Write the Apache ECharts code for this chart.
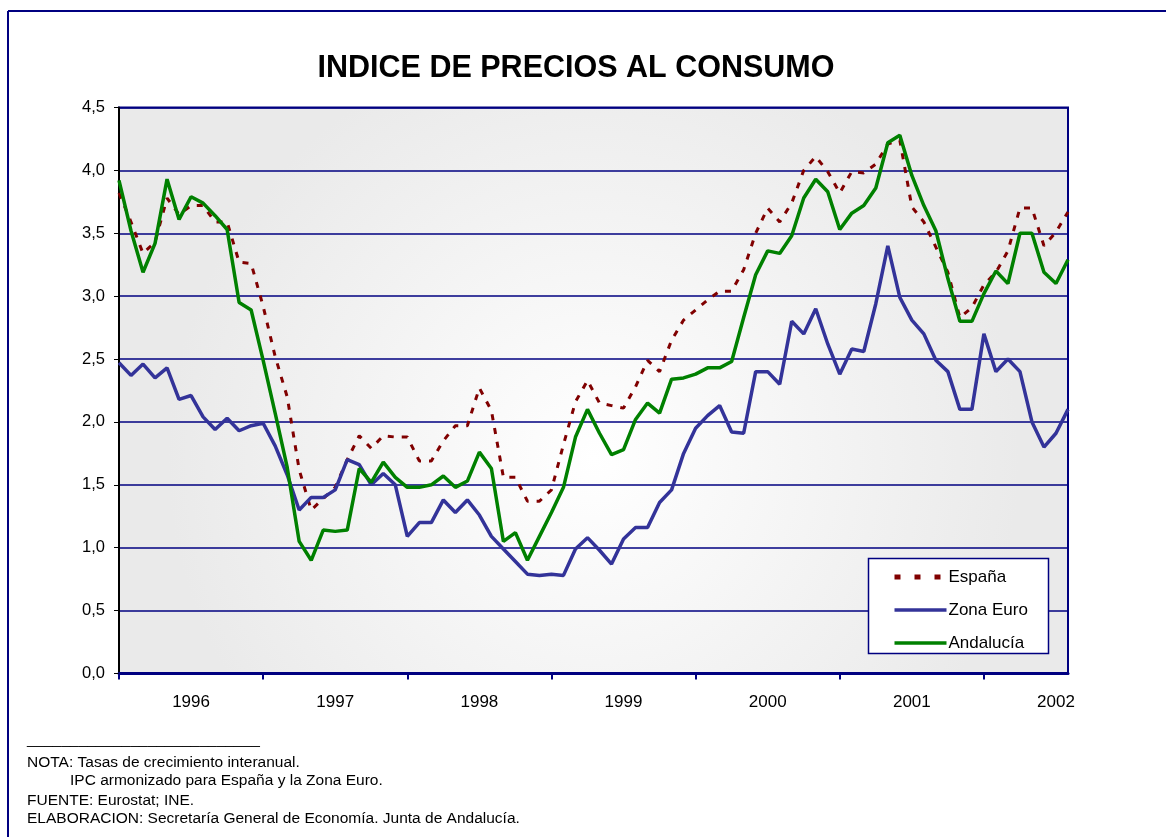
<!DOCTYPE html>
<html>
<head>
<meta charset="utf-8">
<script src="https://cdn.jsdelivr.net/npm/echarts@6/dist/echarts.min.js"></script>
<style>
html,body{margin:0;padding:0;background:#fff;}
#c{width:1166px;height:837px;}
</style>
</head>
<body>
<div id="c"></div>
<script>
// ---- data ----
const years = ['1996','1997','1998','1999','2000','2001','2002'];
const months = ['01','02','03','04','05','06','07','08','09','10','11','12'];
const lastMonthIndex2002 = 7; // data ends Aug 2002
const yTicks = [0, 0.5, 1, 1.5, 2, 2.5, 3, 3.5, 4, 4.5];

const espana = [
  3.82, 3.59, 3.34, 3.43, 3.78, 3.65, 3.72, 3.72, 3.59, 3.59, 3.27, 3.26,
  2.92, 2.52, 2.20, 1.62, 1.30, 1.39, 1.48, 1.70, 1.89, 1.79, 1.89, 1.88,
  1.88, 1.69, 1.69, 1.85, 1.97, 1.97, 2.27, 2.09, 1.56, 1.56, 1.37, 1.37,
  1.46, 1.82, 2.16, 2.33, 2.15, 2.13, 2.11, 2.28, 2.49, 2.40, 2.65, 2.81,
  2.89, 2.97, 3.04, 3.04, 3.21, 3.50, 3.70, 3.59, 3.74, 4.00, 4.11, 3.99,
  3.82, 3.99, 3.98, 4.05, 4.21, 4.24, 3.71, 3.59, 3.39, 3.19, 2.83, 2.91,
  3.09, 3.19, 3.36, 3.70, 3.70, 3.40, 3.51, 3.67
];
const zonaEuro = [
  2.47, 2.37, 2.46, 2.35, 2.43, 2.18, 2.21, 2.04, 1.94, 2.03, 1.93, 1.97,
  1.99, 1.81, 1.58, 1.30, 1.40, 1.40, 1.46, 1.70, 1.66, 1.50, 1.59, 1.50,
  1.09, 1.20, 1.20, 1.38, 1.28, 1.38, 1.26, 1.09, 0.99, 0.89, 0.79, 0.78,
  0.79, 0.78, 0.99, 1.08, 0.98, 0.87, 1.07, 1.16, 1.16, 1.36, 1.46, 1.75,
  1.95, 2.05, 2.13, 1.92, 1.91, 2.40, 2.40, 2.30, 2.80, 2.70, 2.90, 2.62,
  2.38, 2.58, 2.56, 2.94, 3.40, 2.99, 2.81, 2.70, 2.49, 2.40, 2.10, 2.10,
  2.70, 2.40, 2.50, 2.40, 2.00, 1.80, 1.91, 2.10
];
const andalucia = [
  3.92, 3.52, 3.19, 3.42, 3.93, 3.61, 3.79, 3.74, 3.64, 3.53, 2.95, 2.89,
  2.49, 2.07, 1.64, 1.05, 0.90, 1.14, 1.13, 1.14, 1.63, 1.52, 1.68, 1.56,
  1.48, 1.48, 1.50, 1.57, 1.48, 1.53, 1.76, 1.63, 1.05, 1.12, 0.90, 1.09,
  1.28, 1.48, 1.88, 2.10, 1.91, 1.74, 1.78, 2.02, 2.15, 2.07, 2.34, 2.35,
  2.38, 2.43, 2.43, 2.48, 2.83, 3.17, 3.36, 3.34, 3.48, 3.78, 3.93, 3.83,
  3.53, 3.66, 3.72, 3.86, 4.22, 4.28, 3.96, 3.72, 3.52, 3.14, 2.80, 2.80,
  3.02, 3.20, 3.10, 3.50, 3.50, 3.19, 3.10, 3.29
];

const categories = [];
years.forEach(function (y, yi) {
  months.forEach(function (m, mi) {
    if (yi < years.length - 1 || mi <= lastMonthIndex2002) categories.push(y + '-' + m);
  });
});

const FONT = '"Liberation Sans", Arial, sans-serif';
const NAVY = '#000080';

const chart = echarts.init(document.getElementById('c'));
chart.setOption({
  animation: false,
  backgroundColor: '#ffffff',
  grid: {
    left: 119, right: 98, top: 107.5, bottom: 163.5,
    show: true,
    borderColor: NAVY,
    borderWidth: 2,
    backgroundColor: {
      type: 'radial', x: 0.5, y: 0.62, r: 0.75,
      colorStops: [
        { offset: 0, color: '#ffffff' },
        { offset: 1, color: '#eaeaea' }
      ]
    }
  },
  legend: {
    orient: 'vertical',
    left: 892,
    top: 568,
    itemWidth: 52,
    itemHeight: 14,
    itemGap: 15,
    padding: 0,
    z: 20,
    itemStyle: { opacity: 0 },
    lineStyle: { width: 3.5 },
    textStyle: { fontFamily: FONT, fontSize: 17, lineHeight: 18, color: '#000', padding: [0, 0, 0, -3] },
    data: [
      { name: 'España', lineStyle: { width: 5, type: [6, 14], color: '#800000' } },
      { name: 'Zona Euro' },
      { name: 'Andalucía' }
    ]
  },
  xAxis: {
    type: 'category',
    data: categories,
    boundaryGap: false,
    axisLine: { lineStyle: { color: NAVY, width: 3 } },
    axisTick: {
      show: true,
      length: 6,
      interval: function (i) { return i % 12 === 0; },
      lineStyle: { color: NAVY, width: 2 }
    },
    axisLabel: {
      interval: function (i) { return i % 12 === 6; },
      formatter: function (v) { return v.slice(0, 4); },
      margin: 20,
      fontFamily: FONT,
      fontSize: 17,
      color: '#000'
    },
    splitLine: { show: false }
  },
  yAxis: {
    type: 'value',
    min: 0,
    max: 4.5,
    interval: 0.5,
    axisLine: { show: true, lineStyle: { color: '#000', width: 2 } },
    axisTick: { show: true, length: 5, lineStyle: { color: '#000', width: 1 } },
    axisLabel: {
      margin: 14,
      fontFamily: FONT,
      fontSize: 16.5,
      color: '#000',
      formatter: function (v) { return v.toFixed(1).replace('.', ','); }
    },
    splitLine: { show: true, lineStyle: { color: NAVY, width: 1.5 } }
  },
  series: [
    {
      name: 'España', type: 'line', data: espana, symbol: 'none', z: 3,
      lineStyle: { color: '#800000', width: 3, type: [6, 8] },
      itemStyle: { color: '#800000' }
    },
    {
      name: 'Zona Euro', type: 'line', data: zonaEuro, symbol: 'none', z: 4,
      lineStyle: { color: '#333399', width: 3.5 },
      itemStyle: { color: '#333399' }
    },
    {
      name: 'Andalucía', type: 'line', data: andalucia, symbol: 'none', z: 5,
      lineStyle: { color: '#008000', width: 3.5 },
      itemStyle: { color: '#008000' }
    }
  ],
  graphic: [
    { type: 'line', shape: { x1: 8, y1: 11, x2: 1166, y2: 11 }, style: { stroke: NAVY, lineWidth: 2 }, z: 1 },
    { type: 'line', shape: { x1: 8, y1: 11, x2: 8, y2: 837 }, style: { stroke: NAVY, lineWidth: 2 }, z: 1 },
    { type: 'text', x: 576, y: 69, z: 10,
      style: { text: 'INDICE DE PRECIOS AL CONSUMO', font: 'bold 30.5px ' + FONT, fill: '#000',
               textAlign: 'center', textVerticalAlign: 'middle' } },
    { type: 'rect', shape: { x: 868.5, y: 558.5, width: 180, height: 95 },
      style: { fill: '#ffffff', stroke: NAVY, lineWidth: 1.5 }, z: 10 },
    { type: 'text', left: 27, top: 732, z: 10,
      style: { text: '___________________________', font: '15.5px ' + FONT, fill: '#000' } },
    { type: 'text', left: 27, top: 755, z: 10,
      style: { text: 'NOTA: Tasas de crecimiento interanual.', font: '15.5px ' + FONT, fill: '#000' } },
    { type: 'text', left: 70, top: 773, z: 10,
      style: { text: 'IPC armonizado para España y la Zona Euro.', font: '15.5px ' + FONT, fill: '#000' } },
    { type: 'text', left: 27, top: 793, z: 10,
      style: { text: 'FUENTE: Eurostat; INE.', font: '15.5px ' + FONT, fill: '#000' } },
    { type: 'text', left: 27, top: 811, z: 10,
      style: { text: 'ELABORACION: Secretaría General de Economía. Junta de Andalucía.', font: '15.5px ' + FONT, fill: '#000' } }
  ]
});
</script>
</body>
</html>
